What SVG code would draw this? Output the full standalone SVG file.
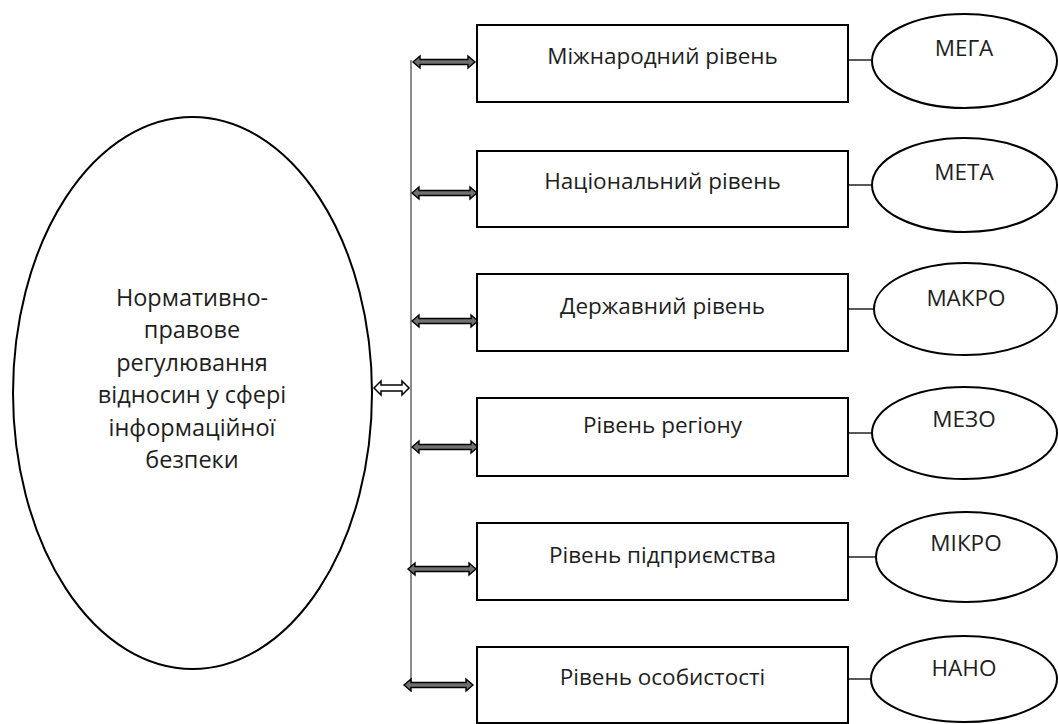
<svg xmlns="http://www.w3.org/2000/svg" width="1058" height="724" viewBox="0 0 1058 724">
<style>
text{font-family:"Open Sans","Noto Sans","Liberation Sans",sans-serif;fill:#1e1e1e;text-anchor:middle}
.big{font-size:23.5px}
.lbl{font-size:22.5px}
.box{fill:#fff;stroke:#000;stroke-width:2}
.ell{fill:#fff;stroke:#000;stroke-width:2}
.arr{fill:#707070;stroke:#000;stroke-width:1.4;stroke-linejoin:miter}
.arrw{fill:#fff;stroke:#000;stroke-width:1.5}
.ln{stroke:#000;stroke-width:1.3;fill:none}
.vl{stroke:#6e6e6e;stroke-width:1.6;fill:none}
</style>
<rect width="1058" height="724" fill="#fff"/>
<g id="connectors">
<line class="vl" x1="411" y1="60" x2="411" y2="686"/>
<path class="arrw" d="M374,388 L381,381 L381,385 L402,385 L402,381 L409,388 L402,395 L402,391 L381,391 L381,395 Z"/>
<path class="arr" d="M413,62 L420,56 L420,59.5 L468,59.5 L468,56 L475,62 L468,68 L468,64.5 L420,64.5 L420,68 Z"/>
<path class="arr" d="M412,193 L419,187 L419,190.5 L470,190.5 L470,187 L477,193 L470,199 L470,195.5 L419,195.5 L419,199 Z"/>
<path class="arr" d="M412,321 L419,315 L419,318.5 L471,318.5 L471,315 L478,321 L471,327 L471,323.5 L419,323.5 L419,327 Z"/>
<path class="arr" d="M412,447 L419,441 L419,444.5 L471,444.5 L471,441 L478,447 L471,453 L471,449.5 L419,449.5 L419,453 Z"/>
<path class="arr" d="M408,569 L415,563 L415,566.5 L469,566.5 L469,563 L476,569 L469,575 L469,571.5 L415,571.5 L415,575 Z"/>
<path class="arr" d="M404,685 L411,679 L411,682.5 L466,682.5 L466,679 L473,685 L466,691 L466,687.5 L411,687.5 L411,691 Z"/>
<line class="ln" x1="848" y1="60" x2="872" y2="60"/>
<line class="ln" x1="848" y1="185" x2="872" y2="185"/>
<line class="ln" x1="848" y1="309" x2="874" y2="309"/>
<line class="ln" x1="848" y1="433" x2="872" y2="433"/>
<line class="ln" x1="848" y1="557" x2="876" y2="557"/>
<line class="ln" x1="848" y1="679" x2="871" y2="679"/>
</g>
<g id="main">
<ellipse class="ell" cx="192.5" cy="393" rx="179.5" ry="276"/>
<text class="big" x="192" y="306">Нормативно-</text>
<text class="big" x="192" y="338.4">правове</text>
<text class="big" x="192" y="370.8">регулювання</text>
<text class="big" x="192" y="403.2">відносин у сфері</text>
<text class="big" x="192" y="435.6">інформаційної</text>
<text class="big" x="192" y="468">безпеки</text>
</g>
<g id="box1"><rect class="box" x="477" y="25" width="371" height="77"/><text class="lbl" x="662.5" y="64">Міжнародний рівень</text></g>
<g id="box2"><rect class="box" x="477" y="151" width="371" height="76"/><text class="lbl" x="662.5" y="189">Національний рівень</text></g>
<g id="box3"><rect class="box" x="477" y="274" width="371" height="77"/><text class="lbl" x="662.5" y="314">Державний рівень</text></g>
<g id="box4"><rect class="box" x="477" y="398" width="371" height="78"/><text class="lbl" x="662.5" y="433">Рівень регіону</text></g>
<g id="box5"><rect class="box" x="477" y="523" width="371" height="77"/><text class="lbl" x="662.5" y="563">Рівень підприємства</text></g>
<g id="box6"><rect class="box" x="477" y="647" width="371" height="76"/><text class="lbl" x="662.5" y="685">Рівень особистості</text></g>
<g id="e1"><ellipse class="ell" cx="964.5" cy="61" rx="92.5" ry="47"/><text class="lbl" x="964" y="56">МЕГА</text></g>
<g id="e2"><ellipse class="ell" cx="964.5" cy="185" rx="92.5" ry="47"/><text class="lbl" x="964" y="180">МЕТА</text></g>
<g id="e3"><ellipse class="ell" cx="965.5" cy="309" rx="91.5" ry="46"/><text class="lbl" x="966" y="306">МАКРО</text></g>
<g id="e4"><ellipse class="ell" cx="964.5" cy="433" rx="92.5" ry="46"/><text class="lbl" x="964" y="427">МЕЗО</text></g>
<g id="e5"><ellipse class="ell" cx="966.5" cy="557" rx="90.5" ry="45"/><text class="lbl" x="966" y="551">МІКРО</text></g>
<g id="e6"><ellipse class="ell" cx="964" cy="679" rx="93" ry="43"/><text class="lbl" x="964" y="676">НАНО</text></g>
</svg>
